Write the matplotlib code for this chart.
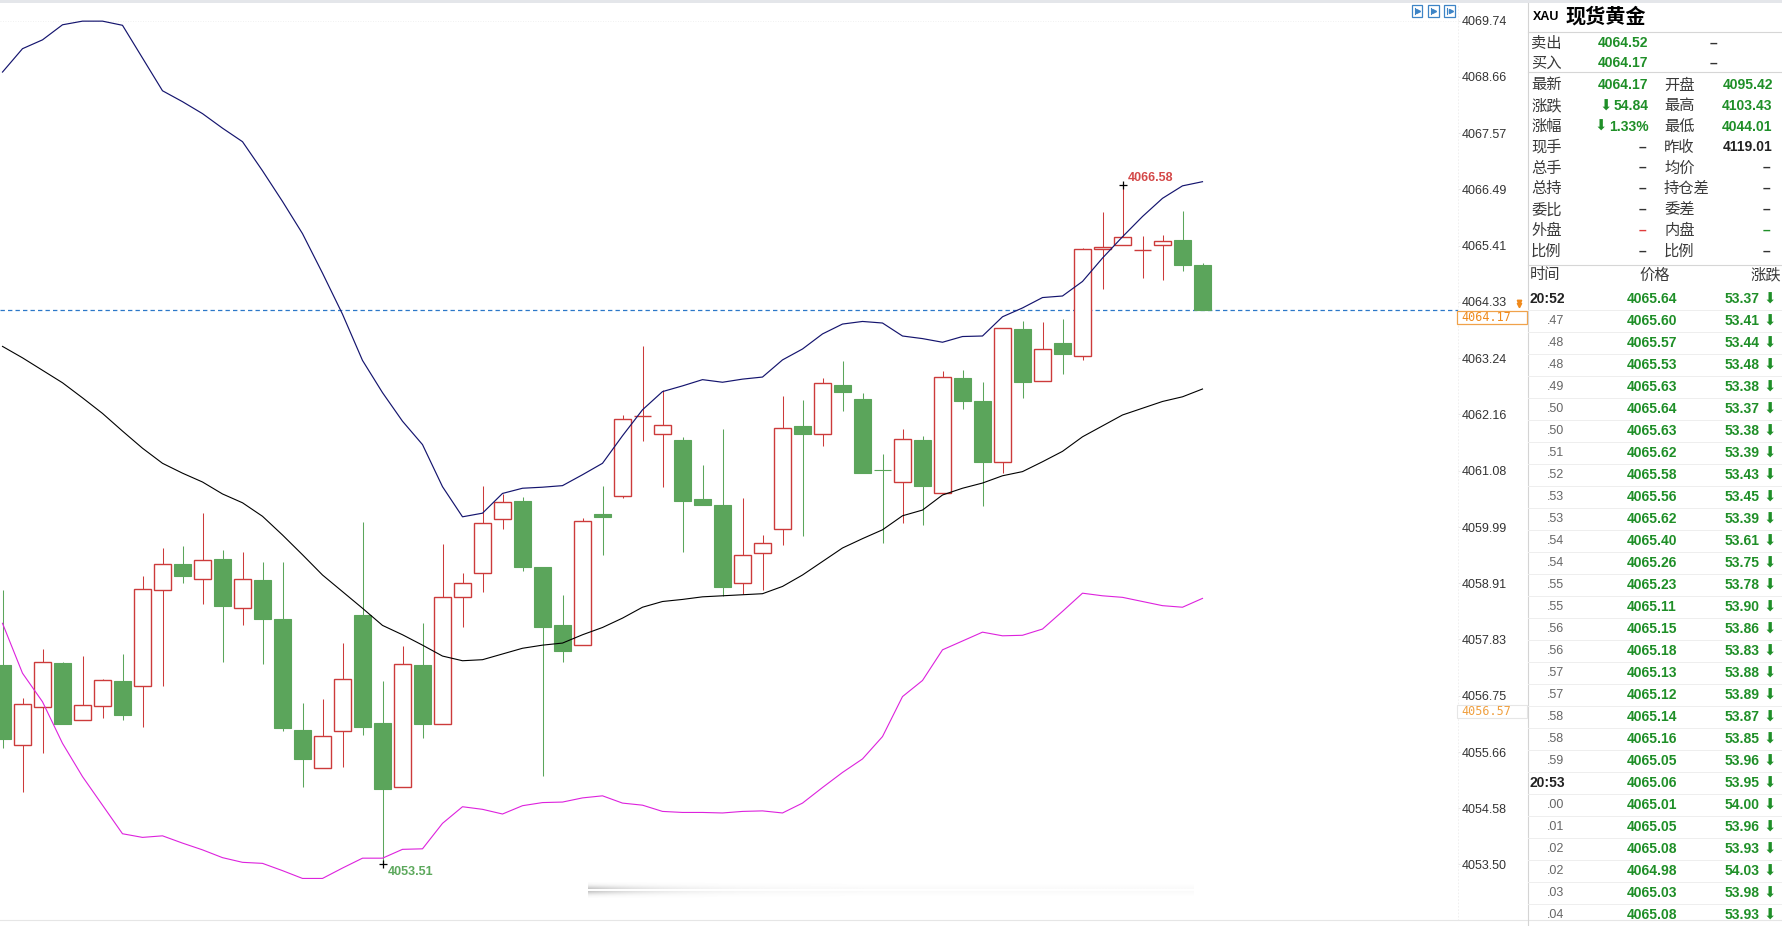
import numpy as np
import matplotlib
matplotlib.use('Agg')
import matplotlib.pyplot as plt
from matplotlib.patches import Rectangle

plt.rcParams['font.family'] = ['Liberation Sans', 'Noto Sans CJK SC', 'DejaVu Sans']

# 1-minute XAU candles, oldest first
opens = [4057.34, 4055.79, 4056.52, 4057.38, 4056.28, 4056.54, 4057.03, 4056.94, 4058.78, 4059.28,
         4058.99, 4059.38, 4058.43, 4058.98, 4058.22, 4056.09, 4055.35, 4056.06, 4058.30, 4056.22,
         4054.99, 4057.34, 4056.20, 4058.64, 4059.10, 4060.14, 4060.50, 4059.23, 4058.11, 4057.72,
         4060.25, 4060.59, 4062.13, 4061.79, 4061.67, 4060.54, 4060.42, 4058.91, 4059.49, 4059.96,
         4061.94, 4061.78, 4062.73, 4062.46, 4061.10, 4060.86, 4061.67, 4060.64, 4062.86, 4062.42,
         4061.24, 4063.80, 4062.80, 4063.53, 4063.28, 4065.35, 4065.42, 4065.33, 4065.42, 4065.52,
         4065.04]
highs = [4058.78, 4056.70, 4057.64, 4057.39, 4057.51, 4057.07, 4057.55, 4059.05, 4059.59, 4059.62,
         4060.26, 4059.55, 4059.52, 4059.32, 4059.32, 4056.61, 4056.69, 4057.77, 4060.09, 4057.03,
         4057.71, 4058.15, 4059.67, 4059.11, 4060.79, 4060.63, 4060.58, 4059.23, 4058.69, 4060.17,
         4060.79, 4062.15, 4063.47, 4062.63, 4061.73, 4061.18, 4061.88, 4060.56, 4059.84, 4062.52,
         4062.43, 4062.87, 4063.19, 4062.58, 4061.40, 4061.88, 4061.75, 4062.99, 4063.02, 4062.79,
         4063.83, 4063.95, 4063.93, 4064.00, 4065.36, 4066.05, 4066.58, 4065.60, 4065.62, 4066.08,
         4065.07]
lows = [4055.74, 4054.90, 4055.64, 4056.21, 4056.28, 4056.31, 4056.28, 4056.15, 4056.94, 4058.92,
        4058.51, 4057.40, 4058.10, 4057.36, 4056.06, 4054.99, 4055.35, 4055.37, 4055.99, 4053.51,
        4054.99, 4055.94, 4056.20, 4058.06, 4058.75, 4059.96, 4059.15, 4055.21, 4057.40, 4057.72,
        4059.46, 4060.56, 4061.64, 4060.77, 4059.52, 4060.41, 4058.67, 4058.70, 4058.78, 4059.65,
        4059.83, 4061.56, 4062.22, 4061.04, 4059.69, 4060.07, 4060.03, 4060.64, 4062.26, 4060.39,
        4061.04, 4062.47, 4062.80, 4062.94, 4063.20, 4064.57, 4065.42, 4064.79, 4064.74, 4064.93,
        4064.17]
closes = [4055.91, 4056.58, 4057.39, 4056.21, 4056.56, 4057.05, 4056.38, 4058.80, 4059.28, 4059.06,
          4059.35, 4058.48, 4058.99, 4058.23, 4056.13, 4055.52, 4055.97, 4057.06, 4056.15, 4054.95,
          4057.35, 4056.21, 4058.65, 4058.91, 4060.07, 4060.47, 4059.23, 4058.06, 4057.61, 4060.11,
          4060.19, 4062.07, 4062.13, 4061.95, 4060.50, 4060.41, 4058.83, 4059.45, 4059.68, 4061.90,
          4061.79, 4062.76, 4062.60, 4061.04, 4061.09, 4061.68, 4060.79, 4062.88, 4062.41, 4061.25,
          4063.82, 4062.78, 4063.42, 4063.32, 4065.35, 4065.39, 4065.57, 4065.33, 4065.50, 4065.04,
          4064.17]

# Bollinger bands
boll_up = [4068.75, 4069.20, 4069.37, 4069.66, 4069.73, 4069.73, 4069.65, 4069.02, 4068.39, 4068.18,
           4067.95, 4067.67, 4067.41, 4066.85, 4066.26, 4065.64, 4064.88, 4064.09, 4063.20, 4062.58,
           4062.03, 4061.58, 4060.77, 4060.19, 4060.26, 4060.64, 4060.74, 4060.76, 4060.79, 4061.00,
           4061.22, 4061.75, 4062.25, 4062.60, 4062.71, 4062.83, 4062.78, 4062.84, 4062.88, 4063.21,
           4063.42, 4063.71, 4063.90, 4063.95, 4063.92, 4063.67, 4063.62, 4063.55, 4063.66, 4063.67,
           4064.04, 4064.21, 4064.41, 4064.44, 4064.72, 4065.17, 4065.58, 4065.97, 4066.32, 4066.56,
           4066.64]
boll_mid = [4063.47, 4063.25, 4063.01, 4062.77, 4062.48, 4062.18, 4061.84, 4061.51, 4061.22, 4061.03,
            4060.86, 4060.63, 4060.46, 4060.20, 4059.84, 4059.46, 4059.07, 4058.75, 4058.43, 4058.10,
            4057.92, 4057.72, 4057.51, 4057.42, 4057.44, 4057.55, 4057.66, 4057.72, 4057.76, 4057.92,
            4058.06, 4058.24, 4058.45, 4058.56, 4058.60, 4058.65, 4058.67, 4058.69, 4058.71, 4058.85,
            4059.07, 4059.33, 4059.59, 4059.77, 4059.94, 4060.21, 4060.32, 4060.61, 4060.74, 4060.84,
            4060.98, 4061.06, 4061.25, 4061.45, 4061.73, 4061.94, 4062.15, 4062.28, 4062.41, 4062.50,
            4062.65]
boll_dn = [4058.14, 4057.18, 4056.63, 4055.83, 4055.19, 4054.64, 4054.09, 4054.02, 4054.05, 4053.91,
           4053.78, 4053.63, 4053.54, 4053.52, 4053.38, 4053.23, 4053.23, 4053.43, 4053.62, 4053.62,
           4053.79, 4053.80, 4054.29, 4054.61, 4054.56, 4054.47, 4054.63, 4054.69, 4054.70, 4054.78,
           4054.82, 4054.68, 4054.64, 4054.52, 4054.50, 4054.50, 4054.49, 4054.52, 4054.53, 4054.49,
           4054.68, 4054.98, 4055.27, 4055.53, 4055.96, 4056.73, 4057.04, 4057.63, 4057.80, 4057.97,
           4057.90, 4057.91, 4058.03, 4058.37, 4058.72, 4058.67, 4058.64, 4058.56, 4058.48, 4058.45,
           4058.62]

y_ticks = [4069.74, 4068.66, 4067.57, 4066.49, 4065.41, 4064.33, 4063.24, 4062.16,
           4061.08, 4059.99, 4058.91, 4057.83, 4056.75, 4055.66, 4054.58, 4053.50]
last_price = 4064.17
ref_price = 4056.57

# quote panel
title_code = 'XAU'
title_name = '现货黄金'
bid_ask = [('卖出', '4064.52'), ('买入', '4064.17')]
left_names = ['最新', '涨跌', '涨幅', '现手', '总手', '总持', '委比', '外盘', '比例']
left_vals = ['4064.17', '54.84', '1.33%', '–', '–', '–', '–', '–', '–']
right_names = ['开盘', '最高', '最低', '昨收', '均价', '持仓差', '委差', '内盘', '比例']
right_vals = ['4095.42', '4103.43', '4044.01', '4119.01', '–', '–', '–', '–', '–']

# tick table
tick_times = ['20:52', '.47', '.48', '.48', '.49', '.50', '.50', '.51', '.52', '.53', '.53',
              '.54', '.54', '.55', '.55', '.56', '.56', '.57', '.57', '.58', '.58', '.59',
              '20:53', '.00', '.01', '.02', '.02', '.03', '.04']
tick_prices = ['4065.64', '4065.60', '4065.57', '4065.53', '4065.63', '4065.64', '4065.63',
               '4065.62', '4065.58', '4065.56', '4065.62', '4065.40', '4065.26', '4065.23',
               '4065.11', '4065.15', '4065.18', '4065.13', '4065.12', '4065.14', '4065.16',
               '4065.05', '4065.06', '4065.01', '4065.05', '4065.08', '4064.98', '4065.03',
               '4065.08']
tick_changes = ['53.37', '53.41', '53.44', '53.48', '53.38', '53.37', '53.38', '53.39', '53.43',
                '53.45', '53.39', '53.61', '53.75', '53.78', '53.90', '53.86', '53.83', '53.88',
                '53.89', '53.87', '53.85', '53.96', '53.95', '54.00', '53.96', '53.93', '54.03',
                '53.98', '53.93']

RED = '#cc3b3b'
GREEN = '#5ba55b'
TXT_GREEN = '#1f8f28'
DARK = '#333333'

W, H = 1782, 926
fig = plt.figure(figsize=(W / 100, H / 100), dpi=100)
fig.patch.set_facecolor('white')

# main chart
ax = fig.add_axes([0, 6 / H, 1458 / W, 916 / H])
ax.set_xlim(-0.125, 72.775)
ax.set_ylim(4052.43, 4070.06)

x = np.arange(len(opens))
bw = 0.815
for i in x:
    o, h, l, c = opens[i], highs[i], lows[i], closes[i]
    top, bot = max(o, c), min(o, c)
    if c >= o:
        ax.vlines(i, top, h, color=RED, lw=0.75)
        ax.vlines(i, l, bot, color=RED, lw=0.75)
        ax.add_patch(Rectangle((i - bw / 2, bot), bw, top - bot, facecolor='white',
                               edgecolor=RED, lw=1.0, zorder=3))
    else:
        ax.vlines(i, l, h, color=GREEN, lw=0.75)
        ax.add_patch(Rectangle((i - bw / 2, bot), bw, top - bot, facecolor=GREEN,
                               edgecolor=GREEN, lw=0.8, zorder=3))

ax.plot(x, boll_up, color='#14146e', lw=0.85, zorder=4)
ax.plot(x, boll_mid, color='black', lw=0.8, zorder=4)
ax.plot(x, boll_dn, color='#dd22dd', lw=0.8, zorder=4)

ax.axhline(last_price, color='#2c78c8', lw=0.9, ls=(0, (3.5, 2.5)), zorder=2)
ax.axhline(y_ticks[0], color='#ececec', lw=0.6, ls=(0, (1, 2)), zorder=1)

# high / low marks
hi_i = int(np.argmax(highs))
lo_i = int(np.argmin(lows))
ax.plot(hi_i, highs[hi_i], marker='+', color='black', ms=6, mew=0.9, zorder=5)
ax.plot(lo_i, lows[lo_i], marker='+', color='black', ms=6, mew=0.9, zorder=5)
ax.annotate(f'{highs[hi_i]:.2f}', (hi_i, highs[hi_i]), xytext=(5, 7), textcoords='offset pixels',
            ha='left', va='center', color='#d44848', fontsize=9, fontweight='bold')
ax.annotate(f'{lows[lo_i]:.2f}', (lo_i, lows[lo_i]), xytext=(5, -8), textcoords='offset pixels',
            ha='left', va='center', color='#5ca85c', fontsize=9, fontweight='bold')

ax.yaxis.tick_right()
ax.set_yticks(y_ticks)
ax.set_yticklabels([f'{v:.2f}' for v in y_ticks])
ax.tick_params(axis='y', length=1.5, width=0.6, color='#e4e4e4', pad=1.5, labelsize=9,
               labelcolor=DARK)
ax.set_xticks([])
for s in ['top', 'left', 'bottom']:
    ax.spines[s].set_visible(False)
ax.spines['right'].set_color('#ededed')
ax.spines['right'].set_linestyle((0, (1, 3)))
ax.spines['right'].set_linewidth(0.6)


def price_px(p):
    return H - ax.transData.transform((0, p))[1]


# overlay in pixel coordinates for the side panel and decorations
ov = fig.add_axes([0, 0, 1, 1], zorder=5)
ov.patch.set_alpha(0)

# blurred scroll bar at the bottom
sx = np.linspace(0, 1, 300)
sy = np.linspace(-1, 1, 16)
fade = 0.04 + 0.45 * np.exp(-sx / 0.10)
prof = np.exp(-(sy / 0.55) ** 2)
rgba = np.zeros((16, 300, 4))
rgba[..., :3] = 0.5
rgba[..., 3] = np.outer(prof, fade)
rgba[7:9, :, :3] = 1.0
ov.imshow(rgba, extent=(588, 1194, 898, 882), aspect='auto', interpolation='bilinear')

ov.set_xlim(0, W)
ov.set_ylim(H, 0)
ov.axis('off')

# frame lines
ov.add_patch(Rectangle((0, 0), W, 3, facecolor='#e4e6ea', edgecolor='none'))
ov.plot([0, W], [920, 920], color='#e6e6e6', lw=0.8)
ov.plot([1528, 1528], [3, H], color='#d4d4d4', lw=0.8)

# tool icons
for x0, w in [(1411.5, 10.5), (1427.5, 11), (1443.5, 11.5)]:
    ov.add_patch(Rectangle((x0, 5), w, 11.5, fill=False, ec='#3d84c6', lw=0.9))
    ov.plot([x0 + 3, x0 + 3], [7.5, 14], color='#3d84c6', lw=0.8)
    ov.plot(x0 + w * 0.62, 10.8, marker='>', color='#3d84c6', ms=3)

# last price box
yl = price_px(last_price)
ov.add_patch(Rectangle((1457, yl + 1), 70, 13, facecolor='white', edgecolor='#f0a24a', lw=0.9))
ov.text(1461, yl + 7.5, f'{last_price:.2f}', family='DejaVu Sans Mono', fontsize=8.5,
        color='#f08a1c', va='center', ha='left')
ov.plot(1519, yl - 8.5, marker='v', color='#f08a1c', ms=3.2)
ov.plot(1519, yl - 5, marker='v', color='#f08a1c', ms=3.2)

yr = price_px(ref_price)
ov.add_patch(Rectangle((1457, yr), 70, 13, facecolor='white', edgecolor='#e6e6e6', lw=0.8))
ov.text(1461, yr + 6.5, f'{ref_price:.2f}', family='DejaVu Sans Mono', fontsize=8.5,
        color='#f0a040', va='center', ha='left')

renderer = fig.canvas.get_renderer()
arrow = dict(family='DejaVu Sans', fontsize=10.5, color=TXT_GREEN, ha='center', va='center')

# quote panel
cjk = dict(family='Noto Sans CJK SC', fontsize=11, color='#3a3a3a', va='center')
num = dict(family='Liberation Sans', fontweight='bold', fontsize=10, va='center')

ov.text(1532.5, 16.7, title_code, family='Liberation Sans', fontweight='bold', fontsize=9,
        color='black', va='center')
ov.text(1566, 16.2, title_name, family='Noto Sans CJK SC', fontweight='bold', fontsize=14.5,
        color='black', va='center')
for yy in [32.3, 72.3, 265]:
    ov.plot([1528, W], [yy, yy], color='#d6d6d6', lw=0.8)

for k, (name, val) in enumerate(bid_ask):
    yy = 43.3 + 20 * k
    ov.text(1531, yy, name, **cjk)
    ov.text(1648.3, yy, val, ha='right', color=TXT_GREEN, **num)
    ov.text(1713, yy, '–', ha='center', color=DARK, **num)

for k in range(len(left_names)):
    yy = 85 + 20.8 * k
    ov.text(1531, yy, left_names[k], **cjk)
    ov.text(1664, yy, right_names[k], **cjk)
    lv, rv = left_vals[k], right_vals[k]
    if lv == '–':
        col = '#e03c3c' if left_names[k] == '外盘' else DARK
        ov.text(1646, yy, lv, ha='right', color=col, **num)
    else:
        t = ov.text(1648.3, yy, lv, ha='right', color=TXT_GREEN, **num)
        if left_names[k] in ('涨跌', '涨幅'):
            x_left = t.get_window_extent(renderer).x0
            ov.text(x_left - 8, yy, '⬇', **arrow)
    if rv == '–':
        col = TXT_GREEN if right_names[k] == '内盘' else DARK
        ov.text(1770, yy, rv, ha='right', color=col, **num)
    else:
        col = '#222222' if right_names[k] == '昨收' else TXT_GREEN
        ov.text(1772.7, yy, rv, ha='right', color=col, **num)

# tick table
ov.text(1529.3, 275, '时间', **cjk)
ov.text(1655, 275, '价格', ha='center', **cjk)
ov.text(1781, 275, '涨跌', ha='right', **cjk)
for k in range(len(tick_times)):
    yy = 299 + 22 * k
    t = tick_times[k]
    if ':' in t:
        ov.text(1529.5, yy, t, family='Liberation Sans', fontweight='bold', fontsize=10,
                color='#222222', va='center')
    else:
        ov.text(1564.3, yy, t, family='Liberation Sans', fontsize=9, color='#666666',
                ha='right', va='center')
    ov.text(1652, yy, tick_prices[k], ha='center', color=TXT_GREEN, **num)
    ov.text(1760, yy, tick_changes[k], ha='right', color=TXT_GREEN, **num)
    ov.text(1769.5, yy, '⬇', **arrow)
    ov.plot([1528, W], [yy + 11, yy + 11], color='#eeeeee', lw=0.7)

fig.savefig('out.png', dpi=100)
